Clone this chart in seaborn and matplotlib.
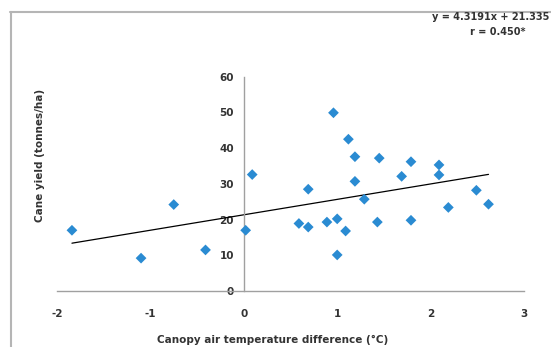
import matplotlib
matplotlib.use("Agg")
import matplotlib.pyplot as plt
import seaborn as sns
import numpy as np
import pandas as pd
from matplotlib.lines import Line2D

# ---- data ----
temp_diff = [-1.84, -1.10, -0.75, -0.41, 0.02, 0.09,
             0.96, 1.12, 1.19, 1.45, 1.79, 2.09, 2.09, 1.69, 1.19, 0.69,
             1.29, 2.49, 2.62, 2.19, 0.59, 0.69, 0.89, 1.00, 1.09, 1.43,
             1.79, 1.00]
cane_yield = [17.0, 9.2, 24.2, 11.5, 17.0, 32.6,
              49.9, 42.5, 37.6, 37.2, 36.2, 35.3, 32.5, 32.1, 30.7, 28.5,
              25.7, 28.2, 24.3, 23.4, 18.9, 17.9, 19.3, 20.2, 16.8, 19.3,
              19.8, 10.1]
slope = 4.3191
intercept = 21.335
eq_text = "y = 4.3191x + 21.335"
r_text = "r = 0.450*"
x_ticks = [-2, -1, 0, 1, 2, 3]
y_ticks = [0, 10, 20, 30, 40, 50, 60]
x_label = "Canopy air temperature difference (°C)"
y_label = "Cane yield (tonnes/ha)"

df = pd.DataFrame({"x": temp_diff, "y": cane_yield})
xfit = np.array([min(temp_diff), max(temp_diff)])
fit = pd.DataFrame({"x": xfit, "y": slope * xfit + intercept})

sns.set_style("white")
plt.rcParams["font.family"] = ["DejaVu Sans"]

W, H = 551, 347
fig = plt.figure(figsize=(W / 100, H / 100), dpi=100)
ax = fig.add_axes([57 / W, 1 - 291 / H, (524 - 57) / W, (291 - 76.7) / H])

sns.scatterplot(data=df, x="x", y="y", marker="D", s=30, color="#2a8bd2",
                edgecolor="none", linewidth=0, ax=ax, zorder=3)
sns.lineplot(data=fit, x="x", y="y", color="black", linewidth=0.9, ax=ax, zorder=2)

ax.set_xlim(-2, 3)
ax.set_ylim(0, 60)
ax.set_xticks(x_ticks)
ax.set_yticks(y_ticks)
ax.set_xticklabels([str(v) for v in x_ticks])
ax.set_yticklabels([str(v) for v in y_ticks])
ax.set_xlabel("")
ax.set_ylabel("")

for side in ["top", "right"]:
    ax.spines[side].set_visible(False)
ax.spines["left"].set_position(("data", 0))
ax.spines["bottom"].set_position(("data", 0))
for side in ["left", "bottom"]:
    ax.spines[side].set_color("#a0a0a0")
    ax.spines[side].set_linewidth(1.0)

ax.tick_params(axis="x", direction="out", length=3, width=0.8, color="#a0a0a0",
               pad=10, labelsize=7.5, labelcolor="#333333")
ax.tick_params(axis="y", direction="out", length=3, width=0.8, color="#a0a0a0",
               pad=4, labelsize=7.5, labelcolor="#333333")
for lab in ax.get_xticklabels() + ax.get_yticklabels():
    lab.set_fontweight("bold")

fig.text(40 / W, 1 - 155 / H, y_label, rotation=90, ha="center", va="center",
         fontsize=7.5, fontweight="bold", color="#333333")
fig.text(273 / W, 1 - 340 / H, x_label, ha="center", va="center",
         fontsize=7.5, fontweight="bold", color="#333333")

fig.text(549 / W, 1 - 17 / H, eq_text, ha="right", va="center",
         fontsize=7, fontweight="bold", color="#333333")
fig.text(498 / W, 1 - 32 / H, r_text, ha="center", va="center",
         fontsize=7, fontweight="bold", color="#333333")

# chart-area border (top and left edges visible)
fig.add_artist(Line2D([10 / W, 1], [1 - 11.5 / H, 1 - 11.5 / H],
                      transform=fig.transFigure, color="#b5b5b5", linewidth=1.5))
fig.add_artist(Line2D([11 / W, 11 / W], [0, 1 - 11.5 / H],
                      transform=fig.transFigure, color="#b5b5b5", linewidth=1.5))

fig.savefig("out.png", dpi=100)
